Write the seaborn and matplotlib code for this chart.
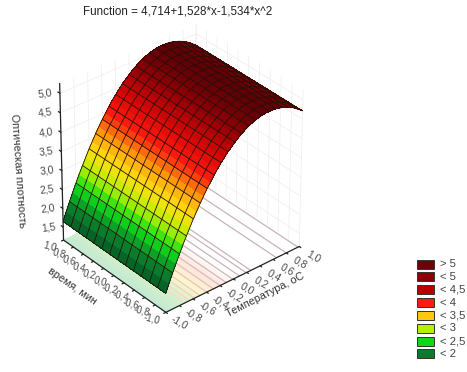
import numpy as np
import seaborn as sns
import matplotlib.pyplot as plt
from matplotlib.patches import Rectangle
from mpl_toolkits.mplot3d import proj3d

sns.set_style("white")
plt.rcParams['font.family'] = ['Liberation Sans', 'DejaVu Sans']

## values
temperature = [-1.0, -0.95, -0.9, -0.85, -0.8, -0.75, -0.7, -0.65, -0.6, -0.55, -0.5,
               -0.45, -0.4, -0.35, -0.3, -0.25, -0.2, -0.15, -0.1, -0.05, 0.0,
               0.05, 0.1, 0.15, 0.2, 0.25, 0.3, 0.35, 0.4, 0.45, 0.5,
               0.55, 0.6, 0.65, 0.7, 0.75, 0.8, 0.85, 0.9, 0.95, 1.0]
density = [1.65, 1.88, 2.10, 2.31, 2.51, 2.71, 2.89, 3.07, 3.25, 3.41, 3.57,
           3.72, 3.86, 3.99, 4.12, 4.24, 4.35, 4.45, 4.55, 4.63, 4.71,
           4.79, 4.85, 4.91, 4.96, 5.00, 5.03, 5.06, 5.08, 5.09, 5.09,
           5.09, 5.08, 5.06, 5.03, 5.00, 4.95, 4.91, 4.85, 4.78, 4.71]
time_min = [-1.0, -0.846, -0.692, -0.538, -0.385, -0.231, -0.077, 0.077,
            0.231, 0.385, 0.538, 0.692, 0.846, 1.0]

xy_ticks = [-1.0, -0.8, -0.6, -0.4, -0.2, 0.0, 0.2, 0.4, 0.6, 0.8, 1.0]
z_ticks = [1.5, 2.0, 2.5, 3.0, 3.5, 4.0, 4.5, 5.0]
floor_lines = [-0.72, -0.65, -0.58, -0.5, -0.4, -0.3, -0.2, -0.11, -0.01, 0.09, 0.19, 0.26, 0.65, 0.8, 0.98]

legend_labels = ['> 5', '< 5', '< 4,5', '< 4', '< 3,5', '< 3', '< 2,5', '< 2']
legend_colors = ['#6e0008', '#8c0008', '#b80000', '#ff1a10', '#ffc810', '#b4f000', '#10d818', '#0a7a2c']

title = 'Function = 4,714+1,528*x-1,534*x^2'
xlabel = 'Температура, оС'
ylabel = 'время, мин'
zlabel = 'Оптическая плотность'

z_min = 1.15
z_max = 5.25

cmap = sns.blend_palette(['#075f28', '#0a8a2c', '#10e018', '#b4f000', '#ffe010', '#ff9a08',
                          '#ff1a10', '#d80808', '#980008', '#560006'], as_cmap=True)
norm = plt.Normalize(1.6, 5.15)
floor_cmap = sns.blend_palette(['#c4ead2', '#d6f0c8', '#fdf6c8', '#fde6dc', '#ffffff'], as_cmap=True)
floor_norm = plt.Normalize(-1, 0.0)
line_cmap = sns.blend_palette(['#f8d8d8', '#e8c0c4', '#d0b8bc', '#c8b4b8'], as_cmap=True)
line_norm = plt.Normalize(-0.7, 0.2)

T, Y = np.meshgrid(temperature, time_min)
Z = np.tile(density, (len(time_min), 1))

fig = plt.figure(figsize=(4.67, 3.72), dpi=100)
ax = fig.add_axes([0.062, 0.145, 0.635, 0.795], projection='3d', computed_zorder=False)
ax.view_init(elev=33.5, azim=-130)
ax.set_proj_type('persp', focal_length=2)
ax.set_box_aspect((1.05, 0.97, 1.12))
ax.set_axis_off()
ax.set_xlim(-1, 1)
ax.set_ylim(-1, 1)
ax.set_zlim(z_min, z_max)

## faint walls
wall = '#f0f0f0'
for t in xy_ticks:
    ax.plot([t, t], [1, 1], [z_min, z_max], color=wall, lw=0.6, zorder=1)
    ax.plot([1, 1], [t, t], [z_min, z_max], color=wall, lw=0.6, zorder=1)
for z in z_ticks:
    ax.plot([-1, 1], [1, 1], [z, z], color=wall, lw=0.6, zorder=1)
    ax.plot([1, 1], [-1, 1], [z, z], color=wall, lw=0.6, zorder=1)

## floor projection
ax.plot_surface(T, Y, np.full_like(Z, z_min), facecolors=floor_cmap(floor_norm(T)), shade=False,
                linewidth=0, antialiased=False, zorder=2)
for t in floor_lines:
    ax.plot([t, t], [-1, 1], [z_min, z_min], color=line_cmap(line_norm(t)), lw=0.9, zorder=3)

## surface, colour on the fine rows and the wire on every second one
ax.plot_surface(T, Y, Z, facecolors=cmap(norm(Z)), shade=False, linewidth=0,
                antialiased=False, rstride=1, cstride=1, zorder=5)
ax.plot_wireframe(T, Y, Z, rstride=1, cstride=2, color='#241006', linewidth=0.6, zorder=6)

## axes lines and tick labels
axis_kw = dict(color='#222222', lw=0.9, zorder=7)
ax.plot([-1, -1], [-1, 1], [z_min, z_min], **axis_kw)
ax.plot([-1, 1], [-1, -1], [z_min, z_min], **axis_kw)
ax.plot([-1, -1], [1, 1], [z_min, z_max], **axis_kw)


## Text3D ignores rotation, so project the anchor and offset it in pixels
def tick_label(x, y, z, s, dx, dy, rot, size=7.4):
    px, py, _ = proj3d.proj_transform(x, y, z, ax.get_proj())
    ax.annotate(s, xy=(px, py), xycoords='data', xytext=(dx * 0.72, -dy * 0.72), textcoords='offset points',
                fontsize=size, color='#4a4a4a', ha='center', va='center', rotation=rot,
                rotation_mode='anchor', annotation_clip=False)


for t in xy_ticks:
    lab = f'{t:.1f}'.replace('.', ',')
    ax.plot([t, t], [-1, -1.03], [z_min, z_min], **axis_kw)
    ax.plot([-1, -1.03], [t, t], [z_min, z_min], **axis_kw)
    tick_label(t, -1, z_min, lab, 14, 10, -30)
    tick_label(-1, t, z_min, lab, -14, 6, -15, size=7)
for z in z_ticks:
    ax.plot([-1, -1], [1, 1.04], [z, z], **axis_kw)
    tick_label(-1, 1, z, f'{z:.1f}'.replace('.', ','), -15, 0, 8)

label_kw = dict(fontsize=7.8, color='#333333', ha='center', va='center')
fig.text(265 / 467, 1 - 295 / 372, xlabel, rotation=27, **label_kw)
fig.text(72 / 467, 1 - 286 / 372, ylabel, rotation=-35, **label_kw)
fig.text(18 / 467, 1 - 171 / 372, zlabel, rotation=-86, **label_kw)

fig.text(178 / 467, 1 - 12 / 372, title, fontsize=8.4, color='#222222', ha='center', va='center')

## legend
for i, (lab, col) in enumerate(zip(legend_labels, legend_colors)):
    y = 1 - (264 + i * 12.85) / 372
    fig.add_artist(Rectangle((417 / 467, y - 4.5 / 372), 17 / 467, 9 / 372, transform=fig.transFigure,
                             facecolor=col, edgecolor='#333333', lw=0.7))
    fig.text(440 / 467, y, lab, fontsize=8.2, color='#444444', ha='left', va='center')

fig.savefig('out.png', dpi=100)
